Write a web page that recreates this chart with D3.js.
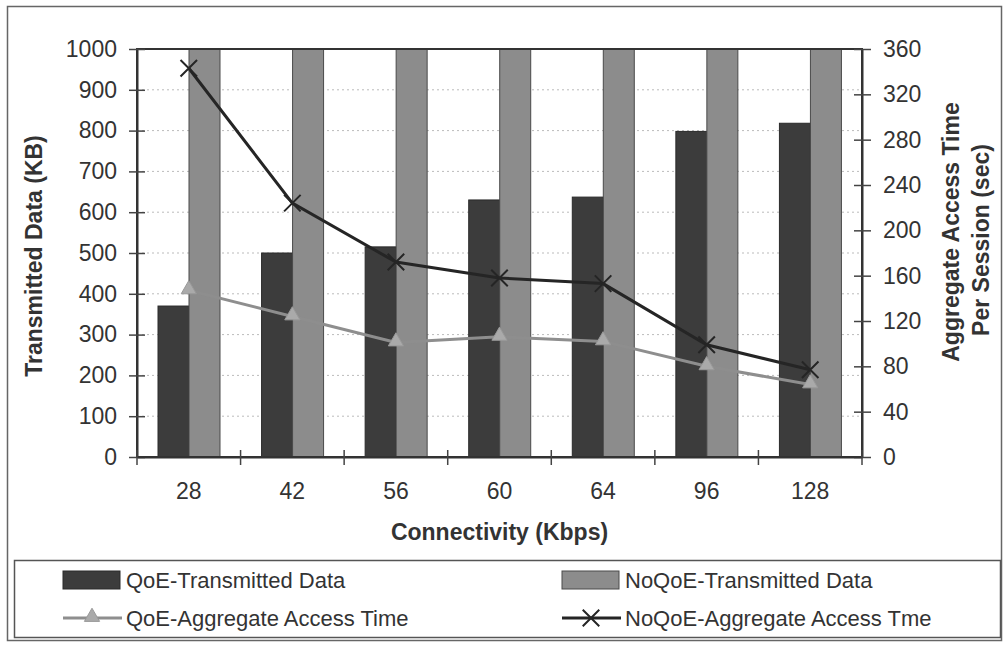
<!DOCTYPE html>
<html>
<head>
<meta charset="utf-8">
<script src="https://cdn.jsdelivr.net/npm/d3@7"></script>
<style>
  body { margin: 0; background: #fff; }
  svg { display: block; font-family: "Liberation Sans", Arial, sans-serif; }
</style>
</head>
<body>
<div id="chart"></div>
<script>
// data
const connectivity = ["28", "42", "56", "60", "64", "96", "128"];
const qoe_data = [370, 500, 515, 630, 637, 798, 818];
const noqoe_data = [1000, 1000, 1000, 1000, 1000, 1000, 1000];
const qoe_time = [147, 124, 101, 106, 102, 80, 64];
const noqoe_time = [343, 224, 172, 158, 153, 99, 77];
const left_ticks = [0, 100, 200, 300, 400, 500, 600, 700, 800, 900, 1000];
const right_ticks = [0, 40, 80, 120, 160, 200, 240, 280, 320, 360];

const W = 1003, H = 645;
const plot = {left: 137, right: 862, top: 49, bottom: 457};
const txt = "#333";
const fs = 23;

const svg = d3.select("#chart").append("svg").attr("width", W).attr("height", H);

svg.append("rect").attr("width", W).attr("height", H).attr("fill", "white");

// outer frame
svg.append("rect")
  .attr("x", 7.5).attr("y", 6.5).attr("width", 994).attr("height", 634)
  .attr("fill", "none").attr("stroke", "#666").attr("stroke-width", 1.5);

const x = d3.scaleBand().domain(connectivity).range([plot.left, plot.right]).padding(0);
const xs = d3.scaleBand().domain(["qoe", "noqoe"]).range([21, 83]).padding(0);
const y = d3.scaleLinear().domain([0, 1000]).range([plot.bottom, plot.top]);
const y2 = d3.scaleLinear().domain([0, 360]).range([plot.bottom, plot.top]);

// gridlines
svg.append("g")
  .selectAll("line")
  .data(left_ticks.filter(d => d > 0 && d < 1000))
  .join("line")
  .attr("x1", plot.left).attr("x2", plot.right)
  .attr("y1", d => y(d)).attr("y2", d => y(d))
  .attr("stroke", "#bbb").attr("stroke-width", 1).attr("stroke-dasharray", "2,3");

// bars
const rows = connectivity.map((c, i) => ({c: c, qoe: qoe_data[i], noqoe: noqoe_data[i]}));
const grp = svg.append("g").selectAll("g").data(rows).join("g")
  .attr("transform", d => "translate(" + x(d.c) + ",0)");

grp.append("rect")
  .attr("x", xs("qoe")).attr("width", xs.bandwidth())
  .attr("y", d => y(d.qoe)).attr("height", d => y(0) - y(d.qoe))
  .attr("fill", "#3c3c3c").attr("stroke", "#2a2a2a").attr("stroke-width", 1);

grp.append("rect")
  .attr("x", xs("noqoe")).attr("width", xs.bandwidth())
  .attr("y", d => y(d.noqoe)).attr("height", d => y(0) - y(d.noqoe))
  .attr("fill", "#8c8c8c").attr("stroke", "#4a4a4a").attr("stroke-width", 1);

// plot frame
svg.append("rect")
  .attr("x", plot.left).attr("y", plot.top)
  .attr("width", plot.right - plot.left).attr("height", plot.bottom - plot.top)
  .attr("fill", "none").attr("stroke", "#333").attr("stroke-width", 2);

// left axis
svg.append("g")
  .attr("transform", "translate(" + plot.left + ",0)")
  .call(d3.axisLeft(y).tickValues(left_ticks).tickFormat(d3.format("d")).tickSizeInner(8).tickSizeOuter(0).tickPadding(12))
  .call(g => g.select(".domain").attr("stroke", "#333").attr("stroke-width", 2))
  .call(g => g.selectAll(".tick line").attr("x1", 8).attr("stroke", "#444").attr("stroke-width", 1.5))
  .call(g => g.selectAll(".tick text").attr("fill", txt).attr("font-size", fs).attr("font-family", "Liberation Sans, Arial, sans-serif"));

// right axis
svg.append("g")
  .attr("transform", "translate(" + plot.right + ",0)")
  .call(d3.axisRight(y2).tickValues(right_ticks).tickFormat(d3.format("d")).tickSizeInner(9).tickSizeOuter(0).tickPadding(12))
  .call(g => g.select(".domain").attr("stroke", "#333").attr("stroke-width", 2))
  .call(g => g.selectAll(".tick line").attr("x1", -8).attr("stroke", "#444").attr("stroke-width", 1.5))
  .call(g => g.selectAll(".tick text").attr("fill", txt).attr("font-size", fs).attr("font-family", "Liberation Sans, Arial, sans-serif"));

// bottom axis: labels centred, ticks at category boundaries
svg.append("g")
  .attr("transform", "translate(0," + plot.bottom + ")")
  .call(d3.axisBottom(x).tickSize(0).tickPadding(26))
  .call(g => g.select(".domain").attr("stroke", "#333").attr("stroke-width", 2))
  .call(g => g.selectAll(".tick text").attr("fill", txt).attr("font-size", fs).attr("font-family", "Liberation Sans, Arial, sans-serif"));

const bounds = connectivity.map(c => x(c)).concat([x.range()[1]]);
svg.append("g").selectAll("line").data(bounds).join("line")
  .attr("x1", d => d).attr("x2", d => d)
  .attr("y1", plot.bottom - 7).attr("y2", plot.bottom + 8)
  .attr("stroke", "#444").attr("stroke-width", 1.5);

// lines
const cx = c => x(c) + x.bandwidth() / 2;
const line = d3.line().x(d => cx(d.c)).y(d => y2(d.v));
const qoe_pts = connectivity.map((c, i) => ({c: c, v: qoe_time[i]}));
const noqoe_pts = connectivity.map((c, i) => ({c: c, v: noqoe_time[i]}));

svg.append("path").datum(qoe_pts).attr("d", line)
  .attr("fill", "none").attr("stroke", "#8e8e8e").attr("stroke-width", 3);
svg.append("path").datum(noqoe_pts).attr("d", line)
  .attr("fill", "none").attr("stroke", "#252525").attr("stroke-width", 3);

const tri = d3.symbol().type(d3.symbolTriangle).size(100);
svg.append("g").selectAll("path").data(qoe_pts).join("path")
  .attr("d", tri)
  .attr("transform", d => "translate(" + cx(d.c) + "," + (y2(d.v) - 1) + ")")
  .attr("fill", "#aaa").attr("stroke", "#999").attr("stroke-width", 1);

const cross = d3.symbol().type(d3.symbolX).size(180);
svg.append("g").selectAll("path").data(noqoe_pts).join("path")
  .attr("d", cross)
  .attr("transform", d => "translate(" + cx(d.c) + "," + y2(d.v) + ")")
  .attr("fill", "none").attr("stroke", "#252525").attr("stroke-width", 2);

// axis titles
svg.append("text")
  .attr("transform", "translate(42,256) rotate(-90)")
  .attr("text-anchor", "middle")
  .attr("font-size", fs).attr("font-weight", "bold").attr("fill", txt)
  .text("Transmitted Data (KB)");

svg.append("text")
  .attr("transform", "translate(959,232) rotate(-90)")
  .attr("text-anchor", "middle")
  .attr("font-size", fs).attr("font-weight", "bold").attr("fill", txt)
  .text("Aggregate Access Time");

svg.append("text")
  .attr("transform", "translate(989,240) rotate(-90)")
  .attr("text-anchor", "middle")
  .attr("font-size", fs).attr("font-weight", "bold").attr("fill", txt)
  .text("Per Session (sec)");

svg.append("text")
  .attr("x", (plot.left + plot.right) / 2).attr("y", 540)
  .attr("text-anchor", "middle")
  .attr("font-size", fs).attr("font-weight", "bold").attr("fill", txt)
  .text("Connectivity (Kbps)");

// legend
const legend = svg.append("g");
legend.append("rect")
  .attr("x", 14.5).attr("y", 560.5).attr("width", 986).attr("height", 77)
  .attr("fill", "white").attr("stroke", "#555").attr("stroke-width", 1.5);

const leg_items = [
  {name: "QoE-Transmitted Data", kind: "bar", fill: "#3c3c3c", stroke: "#2a2a2a", x: 63, y: 580},
  {name: "NoQoE-Transmitted Data", kind: "bar", fill: "#8c8c8c", stroke: "#4a4a4a", x: 562, y: 580},
  {name: "QoE-Aggregate Access Time", kind: "tri", x: 63, y: 618},
  {name: "NoQoE-Aggregate Access Tme", kind: "x", x: 562, y: 618}
];

leg_items.forEach(d => {
  const g = legend.append("g").attr("transform", "translate(" + d.x + "," + d.y + ")");
  if (d.kind === "bar") {
    g.append("rect").attr("x", 0).attr("y", -9).attr("width", 57).attr("height", 18)
      .attr("fill", d.fill).attr("stroke", d.stroke);
  } else if (d.kind === "tri") {
    g.append("line").attr("x1", 0).attr("x2", 59).attr("y1", 0).attr("y2", 0)
      .attr("stroke", "#8e8e8e").attr("stroke-width", 3);
    g.append("path").attr("d", tri).attr("transform", "translate(29,-1)")
      .attr("fill", "#aaa").attr("stroke", "#999");
  } else {
    g.append("line").attr("x1", 0).attr("x2", 59).attr("y1", 0).attr("y2", 0)
      .attr("stroke", "#252525").attr("stroke-width", 3);
    g.append("path").attr("d", cross).attr("transform", "translate(29,0)")
      .attr("fill", "none").attr("stroke", "#252525").attr("stroke-width", 2);
  }
  g.append("text")
    .attr("x", 63).attr("y", 0).attr("dy", "0.35em")
    .attr("font-size", 22).attr("fill", txt)
    .text(d.name);
});
</script>
</body>
</html>
